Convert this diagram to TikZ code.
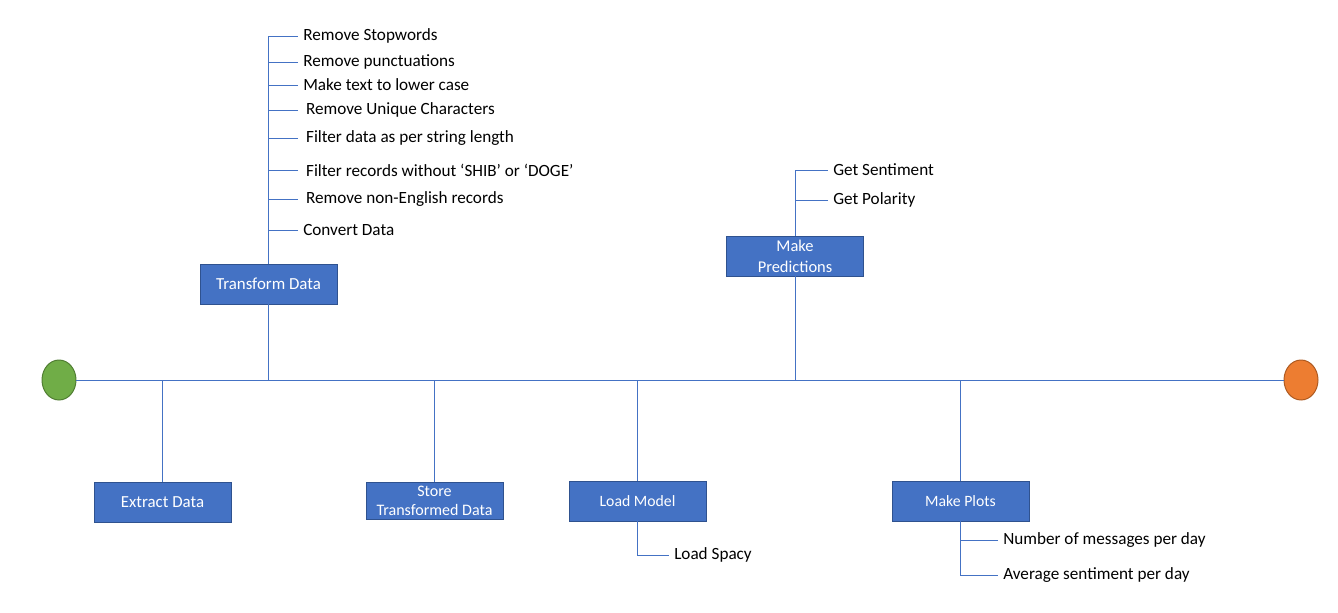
\documentclass[tikz,border=0pt]{standalone}
\usepackage{fontspec}
\setmainfont{Carlito}
\usepackage{tikz}
\usetikzlibrary{positioning}
\usetikzlibrary{shapes.geometric}

\definecolor{stageblue}{HTML}{4472C4}
\definecolor{stageedge}{HTML}{2F528F}
\definecolor{startgreen}{HTML}{70AD47}
\definecolor{startedge}{HTML}{507E32}
\definecolor{endorange}{HTML}{ED7D31}
\definecolor{endedge}{HTML}{AE5A21}

\begin{document}
\begin{tikzpicture}[x=0.25mm,y=-0.25mm,
			stage/.style={draw=stageedge,fill=stageblue,text=white,line width=0.7pt,
				minimum width=34.25mm,minimum height=10mm,inner sep=1pt,align=center,
				font=\fontsize{11.2}{14}\selectfont},
			item/.style={anchor=west,inner sep=1.25mm,font=\fontsize{12.2}{14}\selectfont},
			link/.style={draw=stageblue,line width=0.7pt},
			terminal/.style={ellipse,line width=0.7pt,minimum width=8.5mm,minimum height=10mm,inner sep=0pt}]
			\useasboundingbox (0,0) rectangle (1338,613);
			
			\node[terminal,draw=startedge,fill=startgreen] (begin) at (59,380) {};
			\node[terminal,draw=endedge,fill=endorange] (finish) at (1301,380) {};
			\draw[link] (begin) -- (finish);
			
			\node[stage,font=\fontsize{12}{14}\selectfont] (extract) at (162.5,502) {Extract Data};
			\node[stage,font=\fontsize{12}{14}\selectfont] (transform) at (268.5,284) {Transform Data};
			\node[stage,minimum height=9.25mm,font=\fontsize{11.4}{13.5}\selectfont] (store) at (434.5,500.5) {Store\\Transformed Data};
			\node[stage] (load) at (637.5,501) {Load Model};
			\node[stage,font=\fontsize{11.7}{15}\selectfont] (predict) at (795,256) {Make\\Predictions};
			\node[stage] (plots) at (960.5,501) {Make Plots};
			
			\draw[link] (extract.north) -- (extract.north |- begin);
			\draw[link] (transform.south) -- (transform.south |- begin);
			\draw[link] (store.north) -- (store.north |- begin);
			\draw[link] (load.north) -- (load.north |- begin);
			\draw[link] (predict.south) -- (predict.south |- begin);
			\draw[link] (plots.north) -- (plots.north |- begin);
			
			% transform steps
			\node[item] (stopwords) at (298,36) {Remove Stopwords};
			\node[item] (punct) at (298,62) {Remove punctuations};
			\node[item] (lower) at (298,85) {Make text to lower case};
			\node[item] (unique) at (298,110) {\,Remove Unique Characters};
			\node[item] (length) at (298,138) {\,Filter data as per string length};
			\node[item] (records) at (298,170) {\,Filter records without ‘SHIB’ or ‘DOGE’};
			\node[item] (english) at (298,199) {\,Remove non-English records};
			\node[item] (convert) at (298,230) {Convert Data};
			
			\draw[link] (transform.north) |- (stopwords.west);
			\draw[link] (punct.west) -- (punct.west -| transform.north);
			\draw[link] (lower.west) -- (lower.west -| transform.north);
			\draw[link] (unique.west) -- (unique.west -| transform.north);
			\draw[link] (length.west) -- (length.west -| transform.north);
			\draw[link] (records.west) -- (records.west -| transform.north);
			\draw[link] (english.west) -- (english.west -| transform.north);
			\draw[link] (convert.west) -- (convert.west -| transform.north);
			
			% prediction steps
			\node[item] (sentiment) at (828,170) {Get Sentiment};
			\node[item] (polarity) at (828,200) {Get Polarity};
			\draw[link] (predict.north) |- (sentiment.west);
			\draw[link] (polarity.west) -- (polarity.west -| predict.north);
			
			% model and plots
			\node[item] (spacy) at (669,555) {Load Spacy};
			\draw[link] (load.south) |- (spacy.west);
			
			\node[item] (permsg) at (998,540) {Number of messages per day};
			\node[item] (avgsent) at (998,575) {Average sentiment per day};
			\draw[link] (plots.south) |- (avgsent.west);
			\draw[link] (permsg.west) -- (permsg.west -| plots.south);
		\end{tikzpicture}
\end{document}
